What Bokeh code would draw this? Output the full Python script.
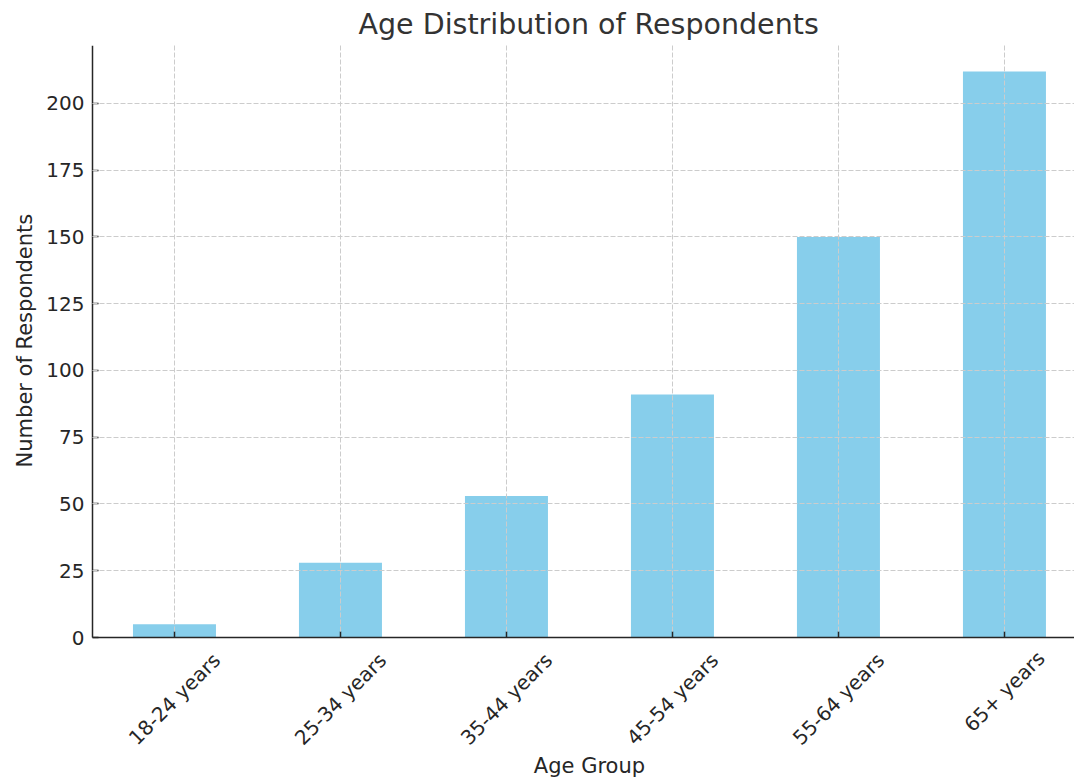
import math
from bokeh.plotting import figure
from bokeh.models import Range1d, FixedTicker, Label
from bokeh.embed import file_html
from bokeh.resources import INLINE

categories = ["18-24 years", "25-34 years", "35-44 years", "45-54 years", "55-64 years", "65+ years"]
counts = [5, 28, 53, 91, 150, 212]
y_ticks = [0, 25, 50, 75, 100, 125, 150, 175, 200]

FONT = "DejaVu Sans"
TXT = "#262626"
GRID = "#cccccc"

X_LEFT_EDGE = -1.048      # canvas left edge
X_AXIS_START = -0.494     # where the plotted area starts
X_RIGHT = 5.422
Y_TOP = 221.7
Y_BOTTOM = -52.8
PX_PER_UNIT = 2.67

xs = list(range(len(categories)))

p = figure(width=1074, height=778, output_backend="svg", toolbar_location=None,
           x_range=Range1d(X_LEFT_EDGE, X_RIGHT), y_range=Range1d(Y_BOTTOM, Y_TOP),
           min_border_left=0, min_border_right=0, min_border_top=43, min_border_bottom=0,
           title="Age Distribution of Respondents")
p.outline_line_color = None
p.background_fill_color = "white"

p.vbar(x=xs, top=counts, width=0.5, fill_color="#87CEEB", line_color=None)

p.title.text_font = FONT
p.title.text_font_size = "28.5px"
p.title.text_font_style = "normal"
p.title.text_color = "#333333"
p.title.align = "left"
p.title.offset = 358

p.xaxis.ticker = FixedTicker(ticks=xs)
p.xaxis.major_label_overrides = {i: "" for i in xs}
p.xaxis.fixed_location = 0
p.xaxis.bounds = (X_AXIS_START, X_RIGHT)
p.yaxis.ticker = FixedTicker(ticks=y_ticks)
p.yaxis.fixed_location = X_AXIS_START
p.yaxis.bounds = (0, Y_TOP)

# grid lines (the one at 0 is hidden behind the solid x axis in the original)
p.ygrid.ticker = FixedTicker(ticks=[t for t in y_ticks if t > 0])
p.xgrid.cross_bounds = (6 / PX_PER_UNIT, Y_TOP)
p.ygrid.cross_bounds = (X_AXIS_START, X_RIGHT)
for g in (p.xgrid, p.ygrid):
    g.grid_line_color = GRID
    g.grid_line_dash = "5 2"
    g.grid_line_width = 1
    g.level = "annotation"

for ax in (p.xaxis, p.yaxis):
    ax.axis_line_color = TXT
    ax.axis_line_width = 1.5
    ax.major_tick_line_color = TXT
    ax.major_tick_line_width = 1.5
    ax.major_tick_in = 6
    ax.major_tick_out = 0
    ax.minor_tick_line_color = None
    ax.major_label_text_font = FONT
    ax.major_label_text_font_size = "20px"
    ax.major_label_text_color = TXT
p.yaxis.major_label_standoff = 8

LABEL_STYLE = dict(text_font=FONT, text_color=TXT, text_align="center", text_baseline="middle")

# x category labels, rotated 45 degrees and centred under their ticks
for i, cat in enumerate(categories):
    w = len(cat) * 10.9
    drop_px = 11 + 0.3536 * (w + 23)
    p.add_layout(Label(x=i, y=-drop_px / PX_PER_UNIT, text=cat, angle=math.pi / 4,
                       text_font_size="20px", **LABEL_STYLE))

# axis titles
p.add_layout(Label(x=(xs[0] + xs[-1]) / 2, y=-128 / PX_PER_UNIT, text="Age Group",
                   text_font_size="21px", **LABEL_STYLE))
p.add_layout(Label(x=X_AXIS_START - 67 / 166, y=111.2, text="Number of Respondents",
                   angle=math.pi / 2, text_font_size="21px", **LABEL_STYLE))

open("out.html", "w").write(file_html(p, INLINE))
